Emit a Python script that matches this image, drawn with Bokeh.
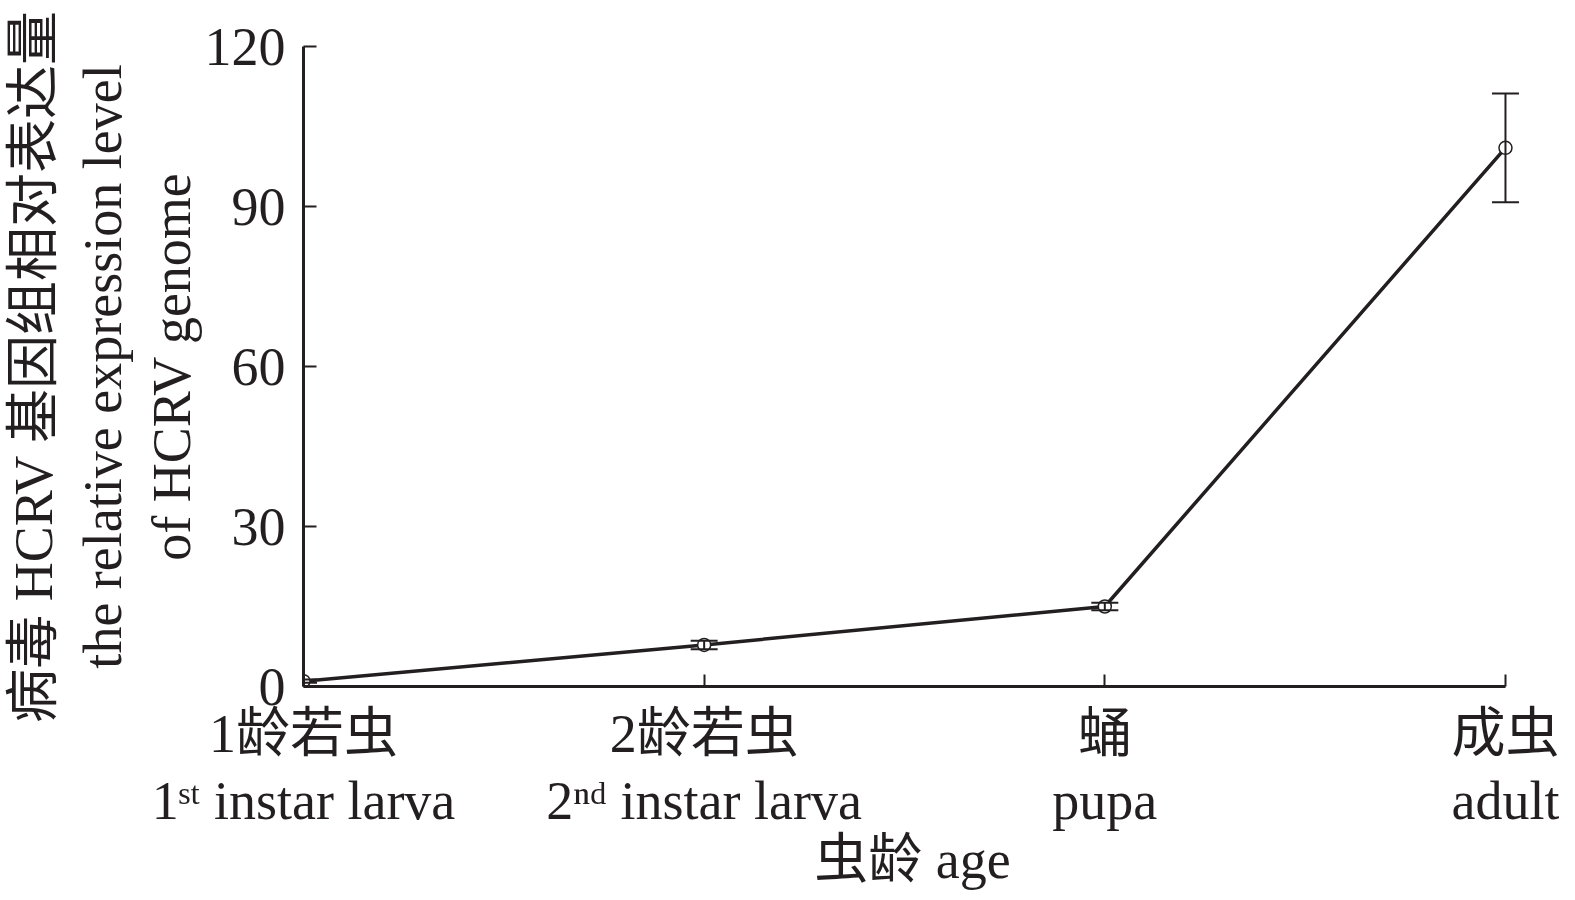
from bokeh.plotting import figure
from bokeh.models import ColumnDataSource, Whisker, Range1d, FixedTicker, TeeHead
from bokeh.embed import file_html
from bokeh.resources import INLINE

# ---- data ----
stages_cn = ["1龄若虫", "2龄若虫", "蛹", "成虫"]
stages_en = ["1ˢᵗ instar larva", "2ⁿᵈ instar larva", "pupa", "adult"]
expression = [1.0, 7.8, 15.0, 101.0]
expression_err = [0.3, 0.8, 0.7, 10.2]
y_ticks = [0, 30, 60, 90, 120]
x_title = "虫龄 age"
y_title = "病毒 HCRV 基因组相对表达量\nthe relative expression level\nof HCRV genome"

FONT = "Liberation Serif, Noto Sans CJK SC"
INK = "#231f20"
FS = "54px"

xs = list(range(len(stages_cn)))
src = ColumnDataSource(dict(
    x=xs,
    y=expression,
    upper=[v + e for v, e in zip(expression, expression_err)],
    lower=[v - e for v, e in zip(expression, expression_err)],
))

p = figure(width=1559, height=892, output_backend="svg", toolbar_location=None,
           x_range=Range1d(0, len(xs) - 1 + 0.04), y_range=Range1d(0, 120),
           min_border_left=298, min_border_top=46, min_border_right=38, min_border_bottom=206)
p.outline_line_color = None
p.grid.grid_line_color = None
p.background_fill_color = "white"
p.border_fill_color = "white"

w = Whisker(source=src, base="x", upper="upper", lower="lower",
            line_color=INK, line_width=2,
            upper_head=TeeHead(size=27, line_color=INK, line_width=2),
            lower_head=TeeHead(size=27, line_color=INK, line_width=2))
w.level = "glyph"
p.add_layout(w)

p.line("x", "y", source=src, line_color=INK, line_width=3.5)
p.scatter("x", "y", source=src, size=13, marker="circle", fill_color="white",
          line_color=INK, line_width=1.5)

# x axis
p.xaxis.ticker = FixedTicker(ticks=xs)
p.xaxis.bounds = (0, len(xs) - 1)
p.xaxis.major_label_overrides = {i: f"{cn}\n{en}" for i, (cn, en) in enumerate(zip(stages_cn, stages_en))}
p.xaxis.minor_tick_line_color = None
p.xaxis.major_tick_in = 12
p.xaxis.major_tick_out = 0
p.xaxis.major_tick_line_width = 2
p.xaxis.major_tick_line_color = INK
p.xaxis.axis_line_width = 3
p.xaxis.axis_line_color = INK
p.xaxis.major_label_text_font = FONT
p.xaxis.major_label_text_font_size = FS
p.xaxis.major_label_text_color = INK
p.xaxis.major_label_text_line_height = 1.12
p.xaxis.major_label_standoff = 17
p.xaxis.axis_label = x_title
p.xaxis.axis_label_text_font = FONT
p.xaxis.axis_label_text_font_size = FS
p.xaxis.axis_label_text_font_style = "normal"
p.xaxis.axis_label_text_color = INK
p.xaxis.axis_label_standoff = -4

# y axis
p.yaxis.ticker = FixedTicker(ticks=y_ticks)
p.yaxis.minor_tick_line_color = None
p.yaxis.major_tick_in = 13
p.yaxis.major_tick_out = 0
p.yaxis.major_tick_line_width = 2
p.yaxis.major_tick_line_color = INK
p.yaxis.axis_line_width = 3
p.yaxis.axis_line_color = INK
p.yaxis.major_label_text_font = FONT
p.yaxis.major_label_text_font_size = FS
p.yaxis.major_label_text_color = INK
p.yaxis.major_label_standoff = 18
p.yaxis.axis_label = y_title
p.yaxis.axis_label_text_font = FONT
p.yaxis.axis_label_text_font_size = "54px"
p.yaxis.axis_label_text_font_style = "normal"
p.yaxis.axis_label_text_color = INK
p.yaxis.axis_label_text_line_height = 1.15
p.yaxis.axis_label_standoff = 0

open("out.html", "w").write(file_html(p, INLINE))
